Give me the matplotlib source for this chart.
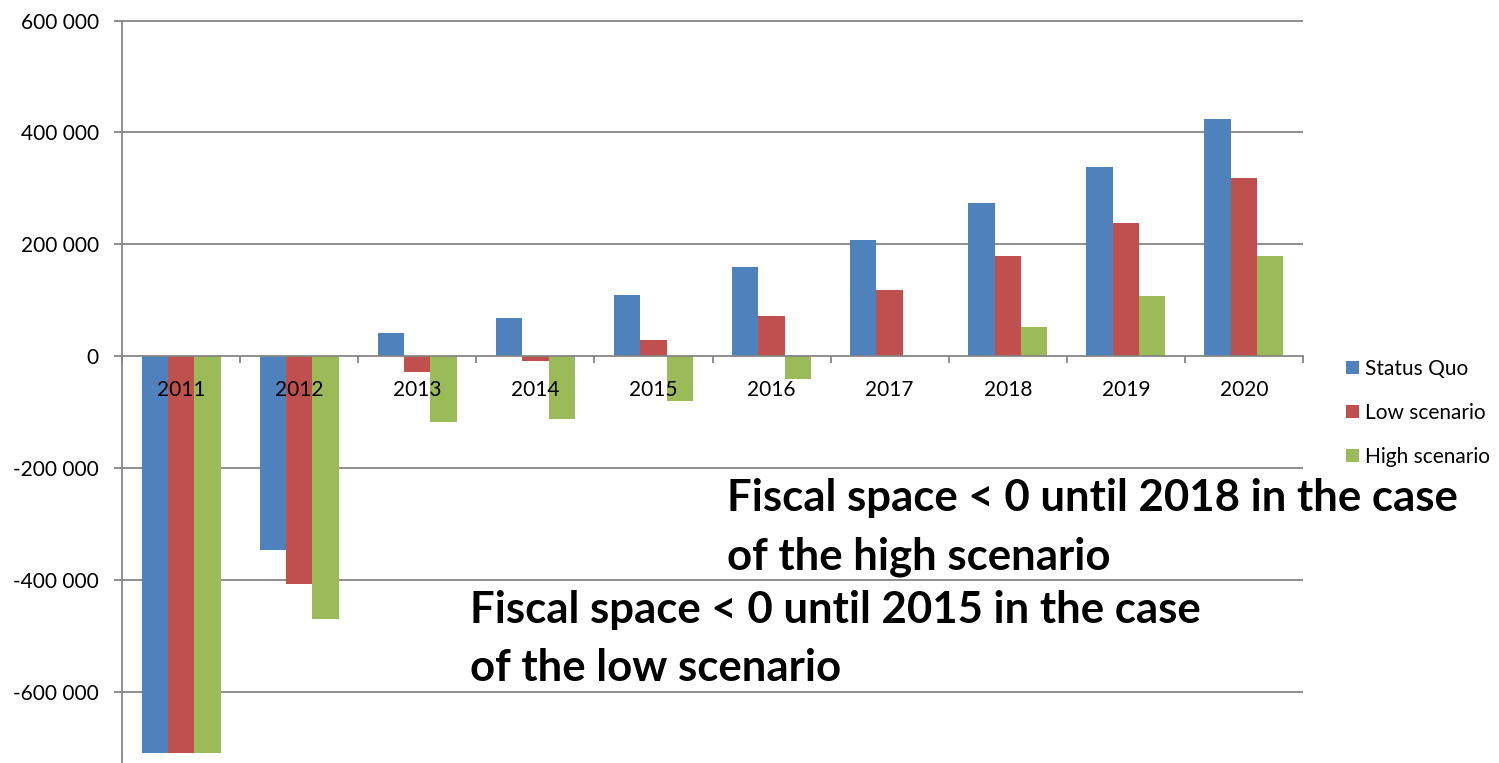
import numpy as np
import matplotlib
matplotlib.use('Agg')
import matplotlib.pyplot as plt
from matplotlib.ticker import FuncFormatter, FixedLocator

plt.rcParams['font.family'] = ['Lato', 'DejaVu Sans']

years       = ['2011', '2012', '2013', '2014', '2015', '2016', '2017', '2018', '2019', '2020']
status_quo  = [-708000, -345000, 42000, 69000, 110000, 159000, 208000, 274000, 339000, 424000]
low_scen    = [-708000, -406000, -28000, -8000, 29000, 73000, 118000, 179000, 239000, 318000]
high_scen   = [-708000, -469000, -117000, -111000, -79000, -40000, 0, 52000, 108000, 180000]
series_names = ['Status Quo', 'Low scenario', 'High scenario']
y_ticks     = [-600000, -400000, -200000, 0, 200000, 400000, 600000]

note_high = 'Fiscal space < 0 until 2018 in the case\nof the high scenario'
note_low  = 'Fiscal space < 0 until 2015 in the case\nof the low scenario'

BLUE  = '#4F81BD'
RED   = '#C0504D'
GREEN = '#9BBB59'
GRID  = '#868686'

W, H = 1499, 763
fig = plt.figure(figsize=(W / 100, H / 100), dpi=100)
ax = fig.add_axes([122 / W, 0, (1303 - 122) / W, 1 - 20.5 / H])

x = np.arange(len(years))
bw = 0.223
series = [status_quo, low_scen, high_scen]
colors = [BLUE, RED, GREEN]
for k, (vals, col, name) in enumerate(zip(series, colors, series_names)):
    ax.bar(x + (k - 1) * bw, vals, bw, color=col, label=name, zorder=2)

ax.set_xlim(-0.5, len(years) - 0.5)
ax.set_ylim(-726000, 600000)

# gridlines kept behind the bars, the axis (and year labels) drawn on top
ax.set_axisbelow(False)
ax.hlines([t for t in y_ticks if t != 0], -0.5, len(years) - 0.5,
          color=GRID, lw=1.3, zorder=0.5, clip_on=False)

for s in ['top', 'right']:
    ax.spines[s].set_visible(False)
ax.spines['bottom'].set_position(('data', 0))
ax.spines['left'].set_color(GRID)
ax.spines['bottom'].set_color(GRID)
ax.spines['left'].set_linewidth(1.3)
ax.spines['bottom'].set_linewidth(1.3)

ax.yaxis.set_major_locator(FixedLocator(y_ticks))
ax.yaxis.set_major_formatter(FuncFormatter(lambda v, p: '{:,.0f}'.format(v).replace(',', ' ')))
ax.tick_params(axis='y', direction='out', length=5.8, width=1.3, color=GRID,
               labelsize=15, pad=11)

ax.xaxis.set_major_locator(FixedLocator(np.arange(-0.5, len(years), 1.0)))
ax.xaxis.set_minor_locator(FixedLocator(x))
ax.set_xticklabels([], minor=False)
ax.set_xticklabels(years, minor=True)
ax.tick_params(axis='x', which='major', direction='out', length=5, width=1.3, color=GRID)
ax.tick_params(axis='x', which='minor', length=0, labelsize=15, pad=17)

ax.legend(loc='center left', bbox_to_anchor=(1346 / W, 1 - 412.7 / H),
          bbox_transform=fig.transFigure, frameon=False, borderpad=0,
          borderaxespad=0, handlelength=0.62, handleheight=0.62,
          handletextpad=0.3, labelspacing=1.15, fontsize=15)

fig.text(727 / W, 1 - 478 / H, note_high, fontsize=31.5, fontweight='bold',
         ha='left', va='top', linespacing=1.56)
fig.text(470 / W, 1 - 590 / H, note_low, fontsize=31.5, fontweight='bold',
         ha='left', va='top', linespacing=1.56)

fig.savefig('out.png', dpi=100)
